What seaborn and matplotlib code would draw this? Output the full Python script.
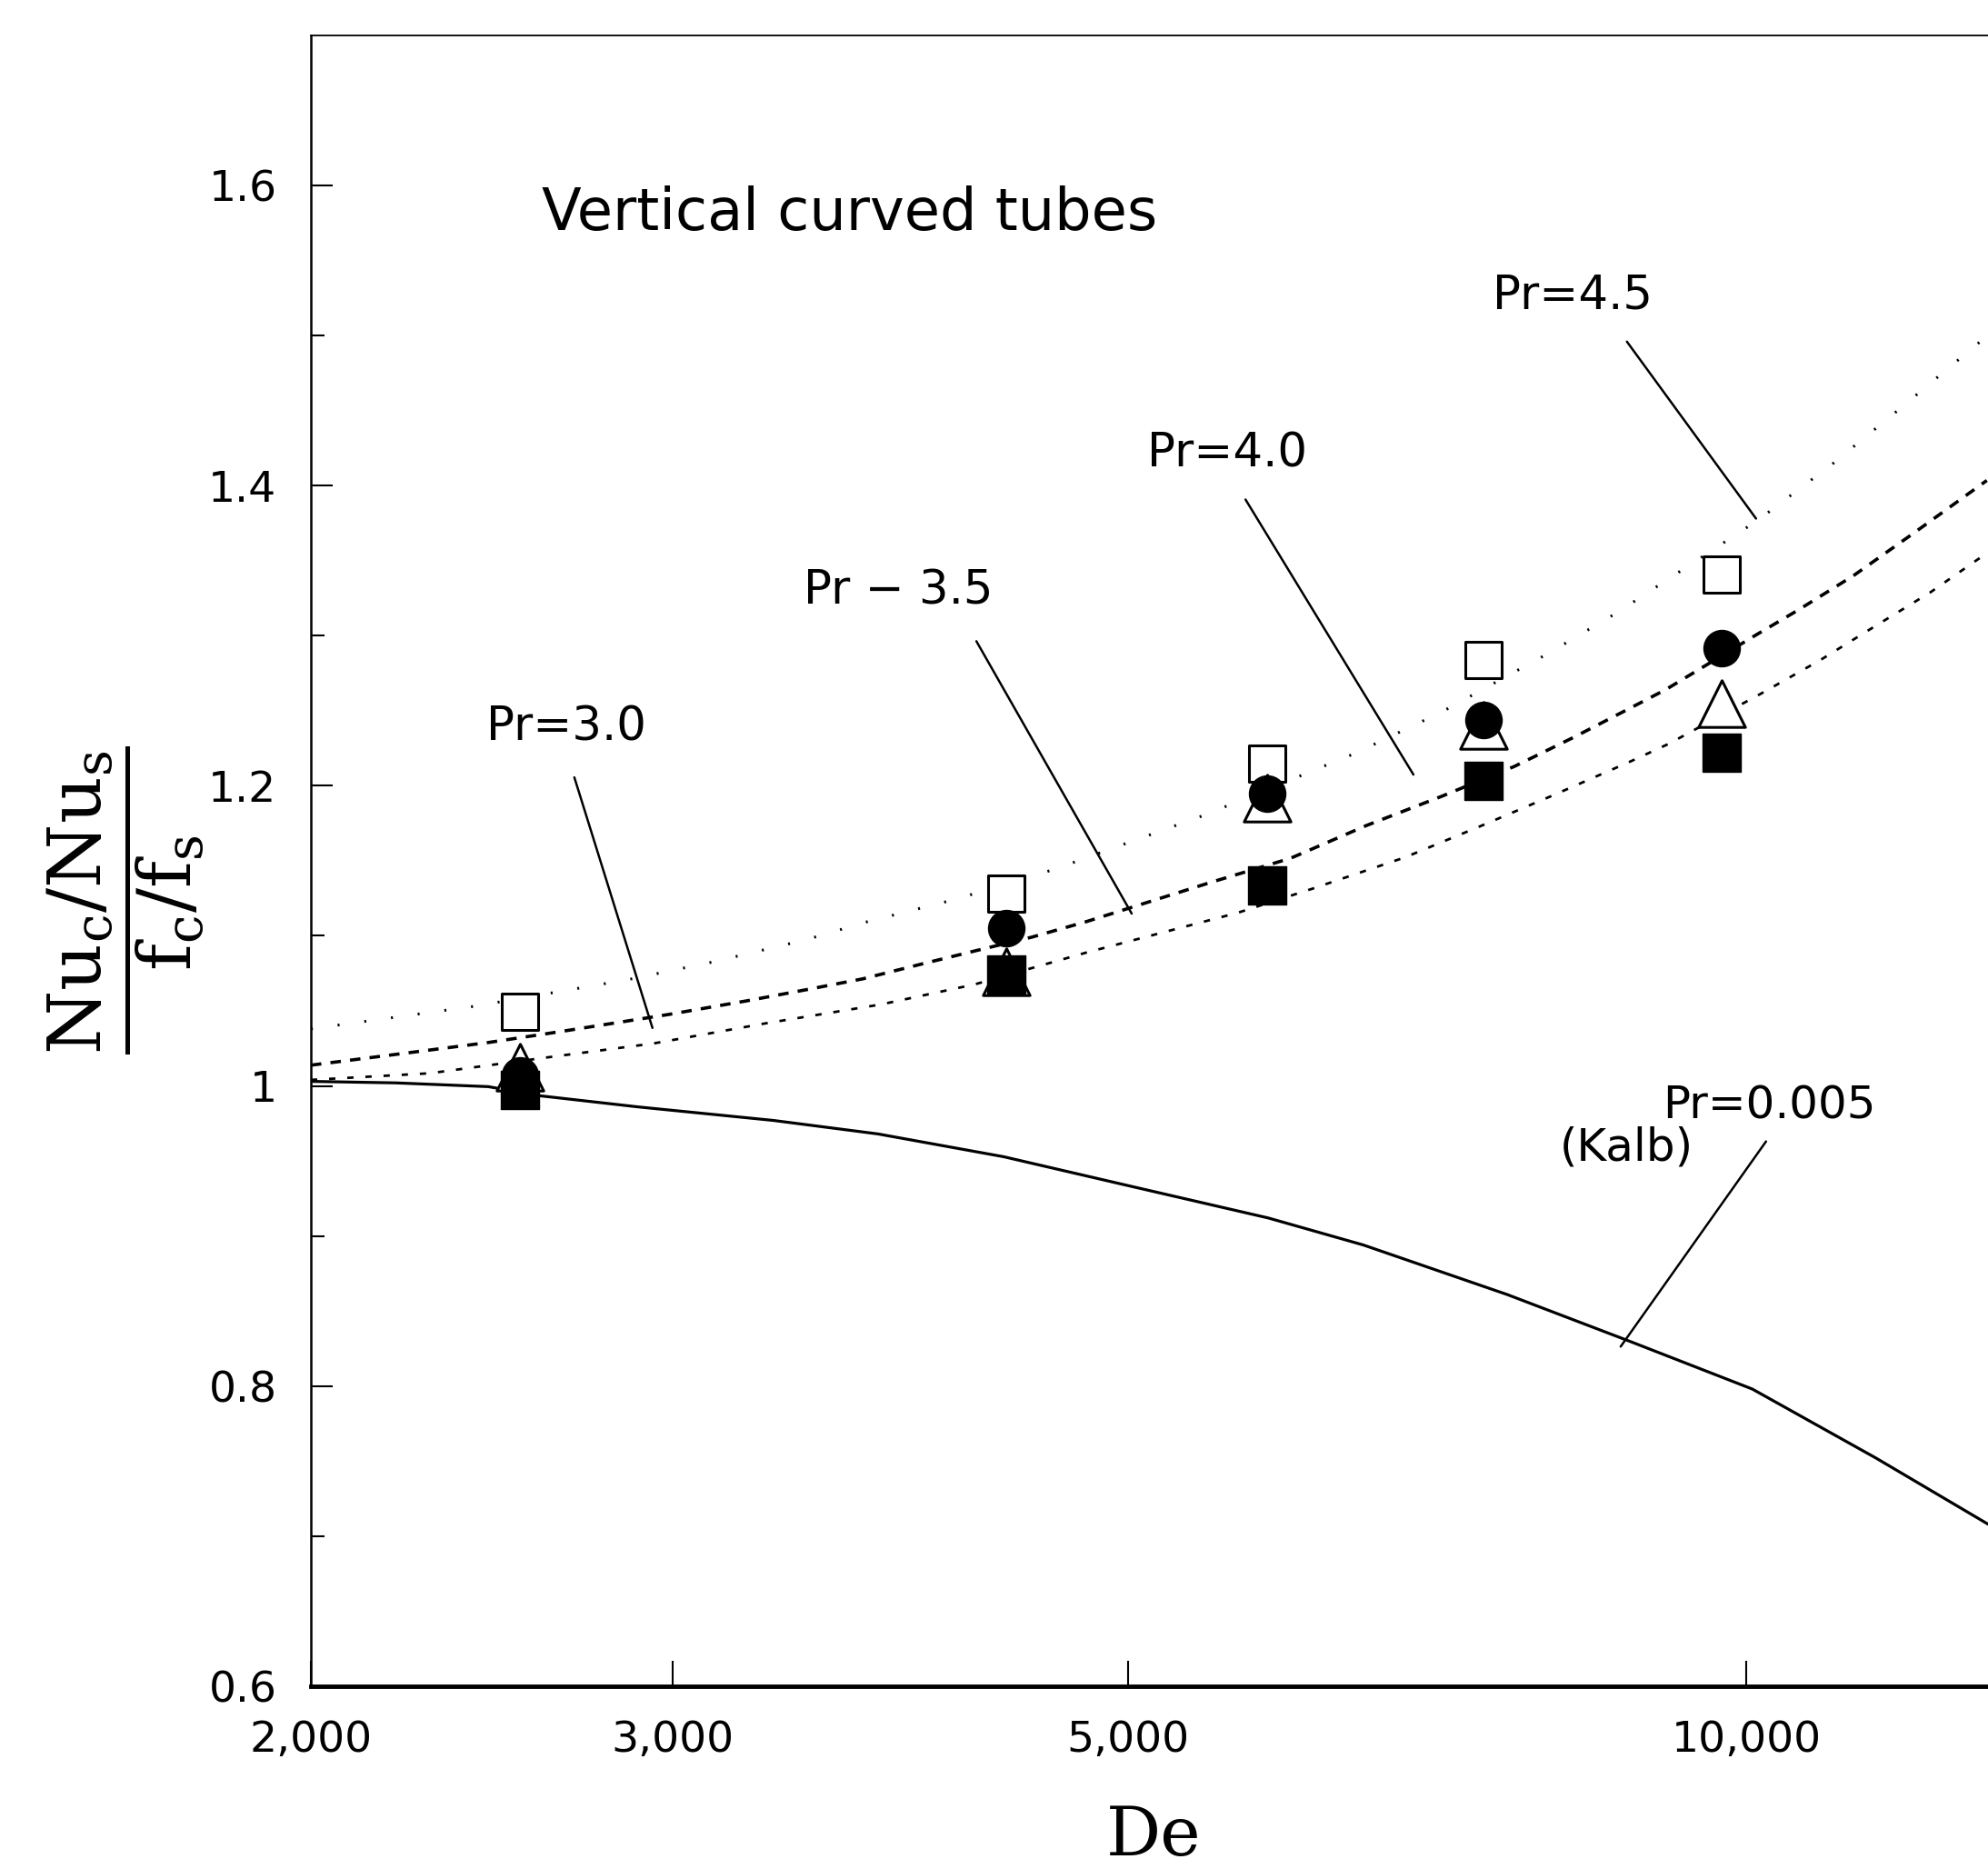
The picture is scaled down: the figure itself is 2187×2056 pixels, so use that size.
import matplotlib
matplotlib.use("Agg")
import matplotlib.pyplot as plt
from matplotlib.ticker import FixedLocator, FixedFormatter, NullLocator
import seaborn as sns

# measured points (De -> (Nu_c/Nu_s)/(f_c/f_s))
de_data = [2528, 4361, 5843, 7444, 9722]
open_square = [1.0495, 1.128, 1.2146, 1.2836, 1.3405]
open_triangle = [1.0126, 1.076, 1.1917, 1.240, 1.2546]
filled_circle = [1.007, 1.105, 1.1947, 1.2437, 1.2915]
filled_square = [0.9975, 1.074, 1.1336, 1.203, 1.2219]

# Kalb, Pr = 0.005 (solid)
kalb_de = [2000, 2200, 2440, 2582, 2886, 3358, 3776, 4348, 5019, 5849,
           6507, 7645, 8765, 10064, 11561, 13107]
kalb_ratio = [1.003, 1.002, 0.9995, 0.9935, 0.986, 0.977, 0.968, 0.9528, 0.933, 0.912,
              0.894, 0.861, 0.830, 0.798, 0.752, 0.708]

# upper curve (Pr = 4.5), sparse dots
top_de = [2000, 2404, 2851, 3144, 3482, 3732, 4124, 4607, 5455, 6456,
          7103, 8012, 8657, 10124, 11021, 11830, 13090]
top_ratio = [1.038, 1.0531, 1.0707, 1.0828, 1.0973, 1.1094, 1.1245, 1.1445, 1.1808, 1.2219,
             1.2491, 1.2884, 1.3157, 1.3768, 1.4149, 1.4494, 1.4996]

# middle curve, dashes
mid_de = [2000, 2238, 2440, 2646, 2990, 3261, 3482, 3712, 3958, 4212, 4487, 4769,
          5478, 5998, 6530, 7103, 7706, 8236, 8770, 9137, 10124, 10590, 11270, 12025, 13090]
mid_ratio = [1.0138, 1.0223, 1.0289, 1.0362, 1.0477, 1.0567, 1.064, 1.0713, 1.0809, 1.09,
             1.0991, 1.1094, 1.1354, 1.1517, 1.1735, 1.1929, 1.2128, 1.2322, 1.2515,
             1.2642, 1.3011, 1.3169, 1.3399, 1.3671, 1.4034]

# lower curve, short dashes
low_de = [2000, 2285, 2594, 2937, 3327, 3790, 4208, 4769, 5654, 6140, 6819, 7415,
          8027, 8770, 9163, 10157, 10857, 11501, 12291, 13090]
low_ratio = [1.004, 1.0084, 1.0186, 1.0283, 1.0416, 1.0543, 1.0676, 1.0888, 1.1154,
             1.1312, 1.1523, 1.1729, 1.1929, 1.2159, 1.2279, 1.2612, 1.2836, 1.3048,
             1.329, 1.355]

# labels: text, position, leader start, leader end
label_text = ["Pr=4.5", "Pr=4.0", "Pr \u2212 3.5", "Pr=3.0"]
label_pos = [(8228, 1.5262), (5586, 1.4209), (3862, 1.3296), (2663, 1.2388)]
leader_start = [(8744, 1.4959), (5702, 1.3907), (4217, 1.2963), (2687, 1.2056)]
leader_end = [(10106, 1.378), (6883, 1.2074), (5019, 1.1148), (2933, 1.0386)]

x_ticks = [2000, 3000, 5000, 10000]
x_tick_labels = ["2,000", "3,000", "5,000", "10,000"]
y_ticks = [0.6, 0.8, 1.0, 1.2, 1.4, 1.6]
y_tick_labels = ["0.6", "0.8", "1", "1.2", "1.4", "1.6"]
y_minor = [0.7, 0.9, 1.1, 1.3, 1.5]

sns.set_theme(style="ticks")
plt.rcParams["font.family"] = ["DejaVu Sans"]
plt.rcParams["mathtext.fontset"] = "dejavuserif"

fig = plt.figure(figsize=(21.87, 20.56), dpi=100)
ax = fig.add_axes([0.1564, 0.0978, 0.8436, 0.8833])
ax.set_xscale("log")

line_kw = dict(ax=ax, color="black", estimator=None, errorbar=None, sort=False)
sns.lineplot(x=kalb_de, y=kalb_ratio, lw=2.3, **line_kw)
sns.lineplot(x=top_de, y=top_ratio, lw=2.2, linestyle=(0, (0.7, 9)), **line_kw)
sns.lineplot(x=mid_de, y=mid_ratio, lw=2.6, linestyle=(0, (3.2, 2.8)), **line_kw)
sns.lineplot(x=low_de, y=low_ratio, lw=2.0, linestyle=(0, (2.5, 4.7)), **line_kw)

sns.scatterplot(x=de_data, y=open_square, marker="s", s=870, color="white",
                edgecolor="black", linewidth=2.2, ax=ax, zorder=3)
sns.scatterplot(x=de_data, y=open_triangle, marker="^", s=1369, color="white",
                edgecolor="black", linewidth=2.2, ax=ax, zorder=4)
sns.scatterplot(x=de_data, y=filled_circle, marker="o", s=830, color="black",
                edgecolor="black", linewidth=1, ax=ax, zorder=5)
sns.scatterplot(x=de_data, y=filled_square, marker="s", s=900, color="black",
                edgecolor="black", linewidth=1, ax=ax, zorder=6)

for txt, pos, p0, p1 in zip(label_text, label_pos, leader_start, leader_end):
    ax.text(pos[0], pos[1], txt, ha="center", va="center", fontsize=37, color="black")
    ax.annotate("", xy=p1, xytext=p0,
                arrowprops=dict(arrowstyle="-", lw=1.8, color="black", shrinkA=0, shrinkB=0))

ax.text(10252, 0.9866, "Pr=0.005", ha="center", va="center", fontsize=36, color="black")
ax.text(8744, 0.9587, "(Kalb)", ha="center", va="center", fontsize=36, color="black")
ax.annotate("", xy=(8683, 0.8263), xytext=(10220, 0.963),
            arrowprops=dict(arrowstyle="-", lw=1.8, color="black", shrinkA=0, shrinkB=0))

ax.text(2592, 1.581, "Vertical curved tubes", ha="left", va="center", fontsize=46, color="black")

ax.set_xlim(2000, 13107)
ax.set_ylim(0.6, 1.7)
ax.xaxis.set_major_locator(FixedLocator(x_ticks))
ax.xaxis.set_major_formatter(FixedFormatter(x_tick_labels))
ax.xaxis.set_minor_locator(NullLocator())
ax.yaxis.set_major_locator(FixedLocator(y_ticks))
ax.yaxis.set_major_formatter(FixedFormatter(y_tick_labels))
ax.yaxis.set_minor_locator(FixedLocator(y_minor))

ax.tick_params(axis="both", which="major", direction="in", labelsize=34, pad=27,
               width=1.5, color="black", labelcolor="black", top=False, right=False)
ax.tick_params(axis="x", which="major", length=20)
ax.tick_params(axis="y", which="major", length=17)
ax.tick_params(axis="y", which="minor", direction="in", length=11, width=1.5, color="black")

ax.spines["right"].set_visible(False)
ax.spines["top"].set_linewidth(1.3)
ax.spines["top"].set_linestyle((0, (2, 1)))
ax.spines["left"].set_linewidth(1.8)
ax.spines["bottom"].set_linewidth(3.5)
for s in ax.spines.values():
    s.set_color("black")

ax.set_xlabel("De", fontfamily="DejaVu Serif", fontsize=54, color="black", va="center")
ax.xaxis.set_label_coords(0.5024, -0.0914)
ax.set_ylabel(r"$\dfrac{\mathrm{Nu_c/Nu_s}}{\mathrm{f_c/f_s}}$", fontsize=58,
              color="black", va="center", ha="center")
ax.yaxis.set_label_coords(-0.1105, 0.4763)

fig.savefig("out.png", dpi=100, facecolor="white")
